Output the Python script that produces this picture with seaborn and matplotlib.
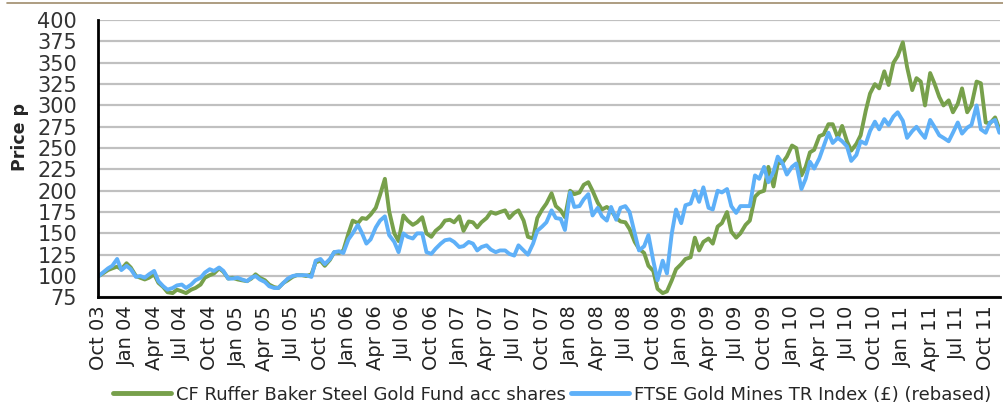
import matplotlib
matplotlib.use("Agg")
import matplotlib.pyplot as plt
import matplotlib.dates as mdates
from matplotlib.lines import Line2D
import seaborn as sns
import pandas as pd

# semi-monthly readings (1st and 15th), Oct 2003 - Nov 2011
start_date = "2003-10-01"
n_points = 196

ruffer = [
    100, 103, 107, 109, 111, 108, 115, 110, 100, 98,
    96, 98, 102, 92, 87, 81, 80, 84, 82, 80,
    84, 86, 90, 98, 101, 103, 109, 105, 97, 98,
    96, 95, 94, 97, 102, 98, 95, 90, 87, 86,
    92, 95, 99, 101, 101, 100, 102, 116, 118, 112,
    119, 128, 127, 130, 150, 165, 162, 168, 167, 172,
    180, 195, 214, 176, 150, 141, 171, 165, 160, 163,
    169, 150, 146, 153, 158, 165, 166, 163, 170, 153,
    164, 163, 157, 163, 168, 175, 173, 175, 177, 168,
    174, 177, 165, 146, 144, 168, 178, 185, 197, 182,
    177, 169, 200, 196, 198, 207, 210, 200, 186, 178,
    181, 177, 168, 164, 163, 155, 140, 132, 127, 112,
    106, 85, 80, 82, 95, 108, 114, 120, 122, 145,
    130, 140, 144, 138, 158, 162, 175, 152, 145, 150,
    160, 165, 193, 198, 200, 228, 205, 232, 233, 240,
    253, 250, 218, 228, 245, 248, 264, 266, 278, 278,
    262, 276, 258, 247, 255, 265, 294, 314, 325, 320,
    340, 324, 350, 358, 374, 345, 318, 332, 328, 300,
    338, 326, 310, 300, 306, 292, 302, 320, 292, 300,
    328, 326, 280, 279, 286, 272,
]

ftse_gold = [
    100, 104, 109, 112, 120, 107, 112, 108, 99, 100,
    98, 102, 106, 94, 88, 84, 86, 89, 90, 86,
    90, 95, 98, 104, 108, 106, 110, 106, 97, 97,
    98, 96, 94, 98, 100, 96, 93, 88, 86, 86,
    92, 97, 100, 101, 101, 101, 99, 118, 120, 114,
    120, 128, 129, 127, 143, 150, 160, 150, 138, 143,
    157, 165, 170, 148, 140, 128, 150, 146, 144, 150,
    150, 128, 126, 132, 138, 142, 143, 140, 134, 135,
    140, 138, 130, 134, 136, 131, 128, 130, 130, 126,
    124, 136, 130, 125, 138, 153, 158, 163, 177, 168,
    167, 154, 198, 181, 182, 190, 196, 171, 180, 170,
    165, 181, 166, 180, 182, 175, 150, 130, 135, 148,
    118, 95, 118, 103, 150, 178, 162, 183, 185, 200,
    187, 204, 180, 178, 200, 198, 202, 182, 174, 182,
    182, 182, 218, 214, 228, 210, 222, 240, 232, 219,
    228, 232, 202, 214, 234, 226, 238, 252, 268, 256,
    262, 258, 252, 235, 242, 258, 255, 270, 281, 272,
    284, 277, 287, 292, 282, 262, 270, 275, 268, 262,
    283, 275, 265, 262, 258, 268, 280, 267, 274, 277,
    300, 272, 268, 280, 283, 268,
]

series_names = [
    "CF Ruffer Baker Steel Gold Fund acc shares",
    "FTSE Gold Mines TR Index (\u00a3) (rebased)",
]
series_colors = ["#77a04b", "#5eb0f8"]

dates = pd.date_range(start_date, periods=n_points, freq="SMS")
df = pd.concat([
    pd.DataFrame({"date": dates, "price": ruffer, "series": series_names[0]}),
    pd.DataFrame({"date": dates, "price": ftse_gold, "series": series_names[1]}),
])

sns.set_style("white")
plt.rcParams["font.family"] = ["DejaVu Sans"]

fig = plt.figure(figsize=(10.04, 4.2), dpi=100)
ax = fig.add_axes([0.0976, 0.292, 0.8984, 0.66])

sns.lineplot(data=df, x="date", y="price", hue="series",
             palette=dict(zip(series_names, series_colors)),
             linewidth=2.8, ax=ax, legend=False)

ax.set_ylim(75, 400)
ax.set_yticks(range(75, 401, 25))
ax.set_xlim(pd.Timestamp("2003-09-29"), pd.Timestamp("2011-11-17"))
ax.xaxis.set_major_locator(mdates.MonthLocator(bymonth=[1, 4, 7, 10]))
ax.xaxis.set_major_formatter(mdates.DateFormatter("%b %y"))
ax.tick_params(axis="x", rotation=90, labelsize=14, length=0, pad=6, colors="#222222")
ax.tick_params(axis="y", labelsize=15, length=0, pad=15, colors="#333333")
ax.grid(axis="y", color="#c0c0c0", linewidth=1.6)
ax.set_axisbelow(True)
for side in ["top", "right"]:
    ax.spines[side].set_visible(False)
for side in ["left", "bottom"]:
    ax.spines[side].set_color("black")
    ax.spines[side].set_linewidth(2)

ax.set_xlabel("")
ax.set_ylabel("Price p", fontsize=12.5, fontweight="bold")
ax.yaxis.set_label_coords(-0.077, 0.58)

handles = [Line2D([0], [0], color=c, linewidth=3.5) for c in series_colors]
fig.legend(handles, series_names, loc="lower center", bbox_to_anchor=(0.55, 0.0),
           ncol=2, frameon=False, fontsize=13, handlelength=3.2,
           columnspacing=0.3, handletextpad=0.3)

fig.add_artist(Line2D([0.007, 1.0], [0.993, 0.993], color="#a08c6c", linewidth=1.2))

fig.savefig("out.png", dpi=100)
